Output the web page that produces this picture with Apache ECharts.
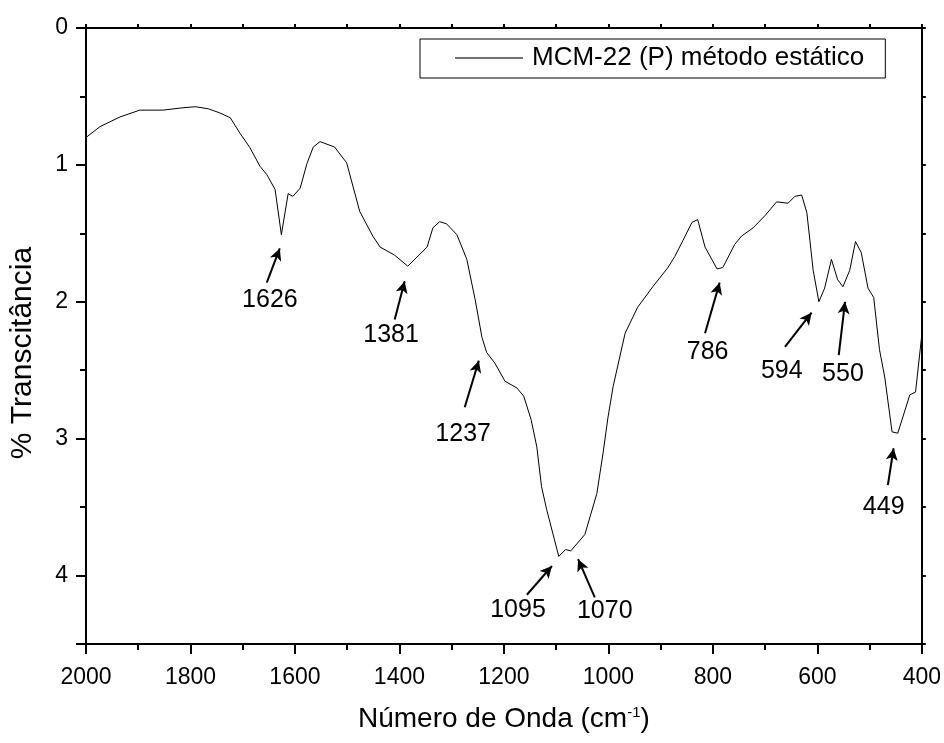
<!DOCTYPE html>
<html>
<head>
<meta charset="utf-8">
<script src="https://cdn.jsdelivr.net/npm/echarts@6/dist/echarts.min.js"></script>
<style>
  html, body { margin: 0; padding: 0; background: #fff; }
  #chart { width: 944px; height: 743px; }
</style>
</head>
<body>
<div id="chart"></div>
<script>
// espectro FTIR
const waveNumbers = [2000, 1973, 1935, 1897, 1853, 1820, 1791, 1766, 1744, 1724, 1705, 1686, 1667, 1654, 1638, 1626, 1613, 1604, 1590, 1577, 1565, 1552, 1524, 1501, 1476, 1451, 1437, 1409, 1384, 1347, 1336, 1323, 1310, 1290, 1271, 1255, 1242, 1233, 1217, 1198, 1175, 1162, 1148, 1137, 1128, 1118, 1095, 1082, 1072, 1045, 1022, 1010, 1001, 991, 968, 944, 915, 886, 873, 857, 840, 829, 815, 792, 781, 758, 745, 723, 700, 678, 656, 643, 630, 620, 608, 597, 586, 573, 561, 551, 538, 527, 516, 503, 492, 481, 471, 457, 446, 423, 412, 400]
const transmittance = [0.80, 0.72, 0.65, 0.60, 0.60, 0.585, 0.575, 0.59, 0.62, 0.655, 0.77, 0.875, 1.01, 1.07, 1.18, 1.51, 1.21, 1.23, 1.17, 0.99, 0.87, 0.83, 0.87, 0.985, 1.34, 1.52, 1.60, 1.66, 1.74, 1.60, 1.46, 1.415, 1.43, 1.51, 1.69, 1.985, 2.26, 2.37, 2.45, 2.58, 2.63, 2.69, 2.86, 3.06, 3.35, 3.52, 3.86, 3.81, 3.82, 3.70, 3.40, 3.10, 2.85, 2.62, 2.23, 2.04, 1.89, 1.75, 1.67, 1.55, 1.42, 1.40, 1.60, 1.76, 1.75, 1.58, 1.52, 1.46, 1.37, 1.27, 1.28, 1.23, 1.22, 1.35, 1.77, 2.00, 1.90, 1.69, 1.84, 1.89, 1.77, 1.56, 1.64, 1.90, 1.97, 2.35, 2.55, 2.95, 2.96, 2.68, 2.66, 2.24]

// picos anotados: texto, posição do texto, início e ponta da seta (em unidades dos eixos)
const peakLabels = ['1626', '1381', '1237', '1095', '1070', '786', '594', '550', '449']
const peakTextAt = [[1648, 1.985], [1416, 2.24], [1278, 2.97], [1173, 4.25], [1007, 4.26], [810, 2.37], [668, 2.51], [551, 2.53], [473, 3.50]]
const arrowFrom = [[1654, 1.86], [1409, 2.13], [1275, 2.77], [1156, 4.14], [1026, 4.16], [815, 2.23], [662, 2.33], [559, 2.39], [465, 3.34]]
const arrowTo = [[1629, 1.61], [1390, 1.85], [1248, 2.43], [1108, 3.93], [1058, 3.88], [787, 1.86], [611, 2.08], [547, 2.00], [454, 3.07]]

const seriesName = 'MCM-22 (P) método estático'
const font = "'Liberation Sans', Arial, sans-serif"

const chart = echarts.init(document.getElementById('chart'))

const axisLine = { show: true, onZero: false, lineStyle: { color: '#000', width: 2 } }

chart.setOption({
  animation: false,
  textStyle: { fontFamily: font, color: '#000' },
  grid: { left: 86, right: 22, top: 28, bottom: 99 },
  legend: {
    data: [{ name: seriesName, icon: 'rect', itemStyle: { color: '#444' } }],
    left: 420,
    top: 39,
    itemWidth: 68,
    itemHeight: 1.5,
    padding: [6, 21, 7, 35],
    borderColor: '#000',
    borderWidth: 1,
    textStyle: { fontSize: 26, fontFamily: font, color: '#000', padding: [0, 0, 0, 4] }
  },
  xAxis: [
    {
      type: 'value', min: 400, max: 2000, interval: 200, inverse: true,
      name: 'Número de Onda (cm{sup|-1})',
      nameLocation: 'middle', nameGap: 61,
      nameTextStyle: {
        fontSize: 28, fontFamily: font, color: '#000',
        rich: { sup: { fontSize: 15, fontFamily: font, verticalAlign: 'top', padding: [0, 0, 14, 0] } }
      },
      axisLine: axisLine,
      axisTick: { show: true, length: 10, lineStyle: { color: '#000', width: 2 } },
      minorTick: { show: true, splitNumber: 2, length: 6, lineStyle: { color: '#000', width: 2 } },
      axisLabel: { fontSize: 23, fontFamily: font, color: '#000', margin: 22, formatter: v => String(v) },
      splitLine: { show: false }
    },
    {
      type: 'value', position: 'top', min: 400, max: 2000, interval: 200, inverse: true,
      axisLine: axisLine,
      axisTick: { show: true, length: 4, lineStyle: { color: '#000', width: 2 } },
      minorTick: { show: true, splitNumber: 2, length: 4, lineStyle: { color: '#000', width: 2 } },
      axisLabel: { show: false },
      splitLine: { show: false }
    }
  ],
  yAxis: [
    {
      type: 'value', min: 0, max: 4.5, interval: 1, inverse: true,
      name: '% Transcitância',
      nameLocation: 'middle', nameGap: 48,
      nameTextStyle: { fontSize: 30, fontFamily: font, color: '#000', padding: [0, 34, 0, 0] },
      axisLine: axisLine,
      axisTick: { show: true, length: 10, lineStyle: { color: '#000', width: 2 } },
      minorTick: { show: true, splitNumber: 2, length: 6, lineStyle: { color: '#000', width: 2 } },
      axisLabel: { fontSize: 23, fontFamily: font, color: '#000', margin: 18, showMaxLabel: false },
      splitLine: { show: false }
    },
    {
      type: 'value', position: 'right', min: 0, max: 4.5, interval: 1, inverse: true,
      axisLine: axisLine,
      axisTick: { show: true, length: 4, lineStyle: { color: '#000', width: 2 } },
      minorTick: { show: true, splitNumber: 2, length: 4, lineStyle: { color: '#000', width: 2 } },
      axisLabel: { show: false },
      splitLine: { show: false }
    }
  ],
  series: [
    {
      name: seriesName,
      type: 'line',
      data: waveNumbers.map((w, i) => [w, transmittance[i]]),
      symbol: 'none',
      lineStyle: { color: '#000', width: 1 },
      itemStyle: { color: '#000' },
      markLine: {
        silent: true,
        symbol: ['none', 'arrow'],
        symbolSize: [9, 12],
        label: { show: false },
        lineStyle: { color: '#000', width: 2, type: 'solid' },
        data: arrowFrom.map((p, i) => [{ coord: p }, { coord: arrowTo[i] }])
      }
    },
    {
      name: 'picos',
      type: 'scatter',
      symbolSize: 0,
      silent: true,
      itemStyle: { opacity: 1, color: '#000' },
      data: peakLabels.map((t, i) => [peakTextAt[i][0], peakTextAt[i][1], t]),
      label: {
        show: true,
        position: 'inside',
        formatter: p => p.value[2],
        fontSize: 25,
        fontFamily: font,
        color: '#000',
        opacity: 1,
        textBorderWidth: 0
      }
    }
  ]
})
</script>
</body>
</html>
